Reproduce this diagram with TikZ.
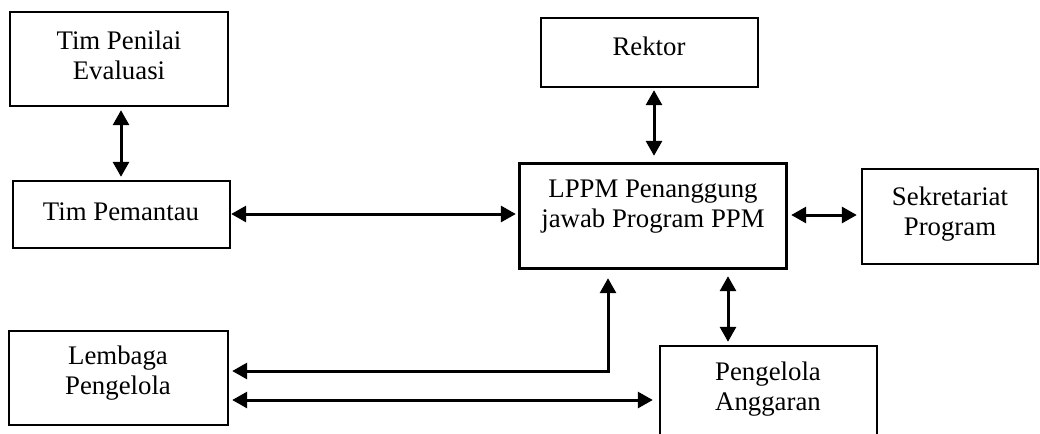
\documentclass[tikz,border=0pt]{standalone}
\usepackage{fontspec}
\setmainfont{Liberation Serif}
\usetikzlibrary{arrows.meta,calc}
\begin{document}
\begin{tikzpicture}[x=0.5pt,y=-0.5pt,
  box/.style={draw,line width=1.2pt,inner sep=0pt,rectangle},
  lbl/.style={align=center,inner sep=0pt,font=\fontsize{13.4pt}{15pt}\selectfont},
  arr/.style={line width=1.5pt,{Triangle[length=7.5pt,width=8pt]}-{Triangle[length=7.5pt,width=8pt]}}]
\useasboundingbox (0,0) rectangle (1040,434);
\begin{scope}
\clip (0,0) rectangle (1040,434);
% boxes
\node[box,minimum width=109pt,minimum height=47pt] (tpe) at (119,59) {};
\node[box,minimum width=108.5pt,minimum height=33.5pt] (tpm) at (121.5,214.5) {};
\node[box,minimum width=108.5pt,minimum height=34.5pt] (rek) at (649.5,52.5) {};
\node[box,minimum width=133.5pt,minimum height=52.5pt] (lppm) at (653,216) {};
\node[box,minimum width=88pt,minimum height=47.5pt] (sek) at (950,216.5) {};
\node[box,minimum width=109.5pt,minimum height=47pt] (lem) at (118.5,378) {};
\node[box,minimum width=108.5pt,minimum height=47pt] (ang) at (768.5,393) {};
% labels
\node[lbl] (tpe-t) at (119,55) {Tim Penilai\\Evaluasi};
\node[lbl] (tpm-t) at (121,212) {Tim Pemantau};
\node[lbl] (rek-t) at (649,46) {Rektor};
\node[lbl] (lppm-t) at (653,207) {LPPM Penanggung\\jawab Program PPM};
\node[lbl] (sek-t) at (950,214) {Sekretariat\\Program};
\node[lbl] (lem-t) at (118,373) {Lembaga\\Pengelola};
\node[lbl] (ang-t) at (768,389) {Pengelola\\Anggaran};
% connectors
\draw[arr] ($(tpe.south)+(2,3)$) -- ($(tpm.north)+(-0.5,-3)$);
\draw[arr] ($(tpm.east)+(0,-0.5)$) -- ($(lppm.west)+(-2.5,-2)$);
\draw[arr] ($(rek.south)+(4.5,2)$) -- ($(lppm.north)+(1,-6.5)$);
\draw[arr] ($(lppm.east)+(3.5,-1)$) -- ($(sek.west)+(-4,-1.5)$);
\draw[arr] ($(lem.east)+(3,-7)$) -| ($(lppm.south)+(-45,8.5)$);
\draw[arr] ($(lppm.south)+(75,6.5)$) -- ($(ang.north)+(-40.5,-3)$);
\draw[arr] ($(lem.east)+(3,22)$) -- ($(ang.west)+(-6,7)$);
\end{scope}
\end{tikzpicture}
\end{document}
